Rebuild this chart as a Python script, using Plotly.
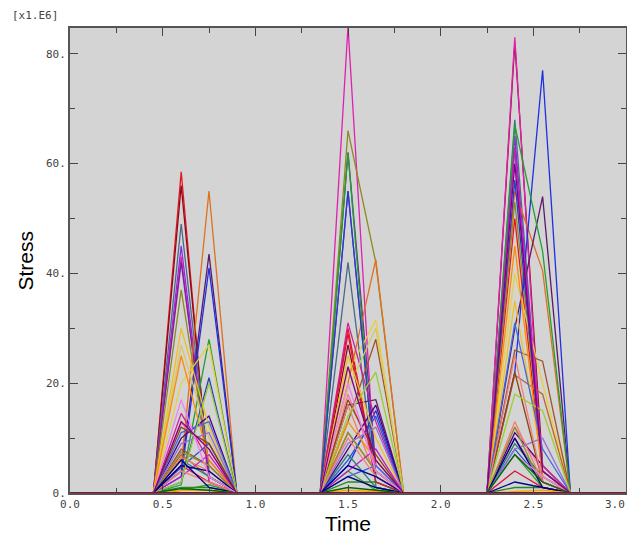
import plotly.graph_objects as go

# time samples of every curve
times = [0.0, 0.45, 0.6, 0.75, 0.9, 1.35, 1.5, 1.65, 1.8, 2.25, 2.4, 2.55, 2.7, 3.0]

# stress values (x1.E6) at the peak instants, one entry per curve
s_060 = [58.5, 56, 49, 45, 43, 42, 37, 5, 4, 3, 1.5, 20, 2, 14.5, 12.7, 8, 7, 27, 4.7, 0.5,
         6, 10, 6.5, 1, 5, 30, 25, 9, 11, 12, 7.5, 3, 4, 5, 2, 6, 17, 0.5, 13, 0.8]
s_075 = [2, 3, 4, 3, 2, 3, 5, 55, 43.5, 41, 28, 27, 21, 6, 8, 5, 3, 10, 9, 1.5,
         3, 14, 4, 1, 2, 12, 6, 11, 13, 9, 5, 7, 2, 4, 20, 1, 3, 0.5, 8, 0.5]
s_150 = [30, 27, 42, 55, 85, 62, 66, 20, 16, 5, 62, 22, 55, 31, 18, 13, 11, 19, 6, 4,
         7, 8, 16, 2, 29, 25, 13, 9, 3, 17, 11, 4, 10, 5, 14, 3, 20, 0.5, 23, 1]
s_165 = [3, 4, 2, 3, 1, 5, 42, 42.5, 17, 15, 1, 31.5, 3, 13, 5, 28, 4, 30, 14, 0.5,
         1, 16, 3, 2, 2, 10, 6, 12, 5, 7, 4, 8, 3, 3, 22, 1, 4, 0.3, 6, 0.5]
s_240 = [50, 82, 68, 65, 83, 63, 53, 55, 30, 22, 67, 40, 57, 10, 12, 26, 21.5, 9, 8, 7,
         9, 11, 13, 1, 4, 35, 45, 8, 31, 22, 12, 63, 25, 2, 18, 10, 7, 0.3, 60, 7]
s_255 = [3, 5, 4, 3, 2, 2, 5, 40.5, 54, 77, 44, 20, 4, 2, 4, 24, 18, 3, 2, 1,
         3, 5, 2, 1, 1, 5, 3, 10, 8, 2, 1, 5, 2, 1, 15, 1, 3, 0.5, 4, 2]

x_tickvals = [0, 0.5, 1, 1.5, 2, 2.5, 3]
x_ticktext = ["0.0", "0.5", "1.0", "1.5", "2.0", "2.5", ""]
x_last_label = "3.0"
y_tickvals = [0, 20, 40, 60, 80]
y_ticktext = ["0.", "20.", "40.", "60.", "80."]

colors = ["#e8161b", "#8b0a1e", "#4a6a8a", "#8a2be2", "#e020b0", "#7b1fa2", "#8a8a20",
          "#e07020", "#5a1a6a", "#2030e0", "#20a030", "#e8d040", "#2040c0", "#d0209a",
          "#ff69b4", "#a0522d", "#c06030", "#d8c860", "#3050d0", "#30a030", "#208080",
          "#4b0082", "#f08060", "#228b22", "#dc143c", "#f0c020", "#ff8c00", "#9370db",
          "#4169e1", "#8b4513", "#909030", "#c020c0", "#f08080", "#000090", "#9acd32",
          "#000080", "#ee82ee", "#ffa500", "#800080", "#006400"]

fig = go.Figure()
for i in range(len(s_060)):
    vals = [0, 0, s_060[i], s_075[i], 0, 0, s_150[i], s_165[i], 0, 0, s_240[i], s_255[i], 0, 0]
    fig.add_trace(go.Scatter(x=times, y=vals, mode="lines",
                             line=dict(color=colors[i % len(colors)], width=1.3),
                             showlegend=False, hoverinfo="skip"))
# baseline curve
fig.add_trace(go.Scatter(x=[0, 3], y=[0, 0], mode="lines",
                         line=dict(color="#8b1030", width=2), showlegend=False))

tickfont = dict(family="DejaVu Sans Mono", size=11, color="#444444")
titlefont = dict(family="Liberation Sans", size=21, color="black")
fig.update_layout(
    width=627, height=530,
    margin=dict(l=62, r=9, t=20, b=45, autoexpand=False),
    paper_bgcolor="white", plot_bgcolor="#d4d4d4",
    xaxis=dict(range=[0, 3], tickvals=x_tickvals, ticktext=x_ticktext,
               ticks="inside", ticklen=8, tickcolor="#444", mirror="ticks",
               showline=True, linecolor="#555", linewidth=2, showgrid=False, zeroline=False,
               minor=dict(ticks="inside", ticklen=5, tickcolor="#444", dtick=0.25),
               tickfont=tickfont, automargin=False),
    yaxis=dict(range=[0, 84.7], tickvals=y_tickvals, ticktext=y_ticktext,
               ticks="inside", ticklen=8, tickcolor="#444", mirror="ticks",
               showline=True, linecolor="#555", linewidth=2, showgrid=False, zeroline=False,
               minor=dict(ticks="inside", ticklen=5, tickcolor="#444", dtick=10),
               tickfont=tickfont, automargin=False),
    annotations=[
        dict(text="[x1.E6]", xref="paper", yref="paper", x=0, xshift=-60, y=1.0,
             xanchor="left", yanchor="middle", yshift=13, showarrow=False,
             font=dict(family="DejaVu Sans Mono", size=11, color="#444444")),
        dict(text=x_last_label, xref="paper", yref="paper", x=1, xshift=1, y=0, yshift=-11,
             xanchor="right", yanchor="middle", showarrow=False, font=tickfont),
        dict(text="Time", xref="paper", yref="paper", x=0.5, y=0, yshift=-30,
             xanchor="center", yanchor="middle", showarrow=False, font=titlefont),
        dict(text="Stress", xref="paper", yref="paper", x=0, xshift=-45, y=0.5,
             xanchor="center", yanchor="middle", textangle=-90, showarrow=False, font=titlefont),
    ],
)
fig.write_html("out.html")
